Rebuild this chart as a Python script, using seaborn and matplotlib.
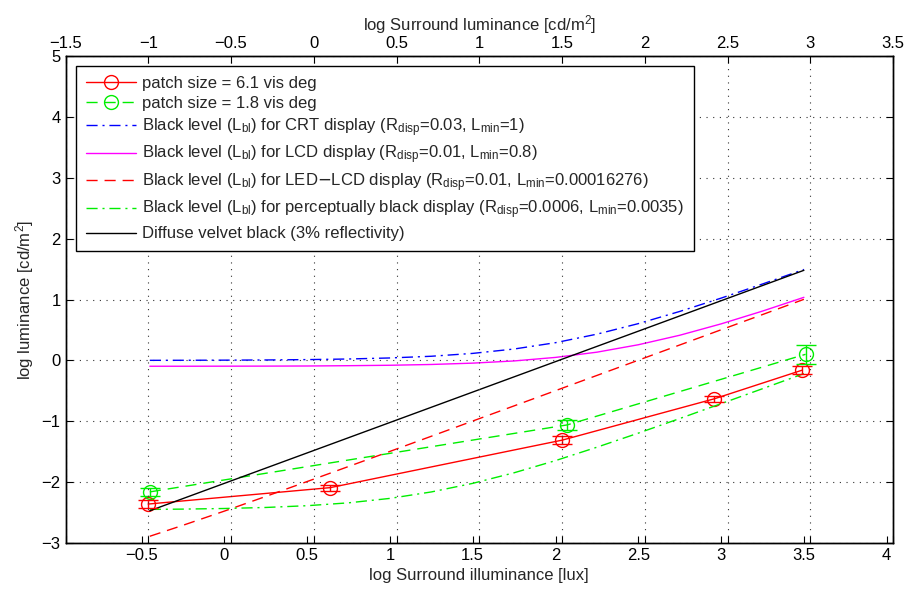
import matplotlib
matplotlib.use("Agg")
import matplotlib.pyplot as plt
from matplotlib.ticker import FuncFormatter
import seaborn as sns
import numpy as np

# =====================================================
# DATA
# =====================================================

# model curves, x = log surround illuminance [lux]
x_model = [-0.45, -0.25, 0.0, 0.25, 0.5, 0.75, 1.0, 1.25, 1.5,
           1.75, 2.0, 2.25, 2.5, 2.75, 3.0, 3.25, 3.5]
crt = [0.001, 0.002, 0.004, 0.007, 0.013, 0.023, 0.040, 0.068, 0.115,
       0.187, 0.291, 0.431, 0.604, 0.804, 1.023, 1.255, 1.494]
lcd = [-0.096, -0.096, -0.095, -0.094, -0.092, -0.087, -0.080, -0.067, -0.045,
       -0.009, 0.049, 0.135, 0.257, 0.413, 0.600, 0.810, 1.036]
led_lcd = [-2.889, -2.709, -2.476, -2.235, -1.990, -1.743, -1.495, -1.246, -0.996,
           -0.747, -0.497, -0.247, 0.003, 0.253, 0.503, 0.753, 1.003]
perceptual = [-2.448, -2.443, -2.433, -2.416, -2.387, -2.340, -2.267, -2.161, -2.020,
              -1.846, -1.646, -1.426, -1.195, -0.955, -0.711, -0.465, -0.217]

velvet_x = [-0.45, 3.5]
velvet_y = [-2.47, 1.48]

# measured black levels
red_x = [-0.46, 0.64, 2.04, 2.96, 3.49]
red_y = [-2.36, -2.09, -1.31, -0.63, -0.16]
red_err = [0.06, 0.05, 0.06, 0.05, 0.07]

green_x = [-0.45, 2.07, 3.51]
green_y = [-2.16, -1.06, 0.10]
green_err = [0.07, 0.08, 0.16]

labels = [
    "patch size = 6.1 vis deg",
    "patch size = 1.8 vis deg",
    r"Black level (L$\mathregular{_{bl}}$) for CRT display (R$\mathregular{_{disp}}$=0.03, L$\mathregular{_{min}}$=1)",
    r"Black level (L$\mathregular{_{bl}}$) for LCD display (R$\mathregular{_{disp}}$=0.01, L$\mathregular{_{min}}$=0.8)",
    r"Black level (L$\mathregular{_{bl}}$) for LED$-$LCD display (R$\mathregular{_{disp}}$=0.01, L$\mathregular{_{min}}$=0.00016276)",
    r"Black level (L$\mathregular{_{bl}}$) for perceptually black display (R$\mathregular{_{disp}}$=0.0006, L$\mathregular{_{min}}$=0.0035)",
    "Diffuse velvet black (3% reflectivity)",
]

bottom_ticks = [-0.5, 0, 0.5, 1, 1.5, 2, 2.5, 3, 3.5, 4]
top_ticks = [-1.5, -1, -0.5, 0, 0.5, 1, 1.5, 2, 2.5, 3, 3.5]
y_ticks = [-3, -2, -1, 0, 1, 2, 3, 4, 5]

# =====================================================
# STYLE
# =====================================================

sns.set_style("ticks")
plt.rcParams["font.family"] = ["Liberation Sans", "DejaVu Sans"]
plt.rcParams["font.size"] = 12
plt.rcParams["axes.edgecolor"] = "black"
plt.rcParams["xtick.color"] = "black"
plt.rcParams["ytick.color"] = "black"
plt.rcParams["axes.linewidth"] = 1.0

dash = (0, (8, 5))
dashdot = (0, (8, 3.5, 1.5, 3.5))

fig = plt.figure(figsize=(9.09, 5.96), dpi=100)
ax = fig.add_axes([0.0721, 0.0889, 0.9103, 0.8171])

# =====================================================
# LINES
# =====================================================

sns.lineplot(x=red_x, y=red_y, ax=ax, color="red", lw=1.0, sort=False,
             estimator=None, marker="o", markersize=10, markerfacecolor="none",
             markeredgecolor="red", markeredgewidth=1.0, label=labels[0])
sns.lineplot(x=green_x, y=green_y, ax=ax, color="#00ee00", lw=1.0, sort=False,
             estimator=None, marker="o", markersize=10, markerfacecolor="none",
             markeredgecolor="#00ee00", markeredgewidth=1.0, linestyle=dash,
             label=labels[1])
sns.lineplot(x=x_model, y=crt, ax=ax, color="blue", lw=1.0, linestyle=dashdot,
             estimator=None, label=labels[2])
sns.lineplot(x=x_model, y=lcd, ax=ax, color="magenta", lw=1.0,
             estimator=None, label=labels[3])
sns.lineplot(x=x_model, y=led_lcd, ax=ax, color="red", lw=1.0, linestyle=dash,
             estimator=None, label=labels[4])
sns.lineplot(x=x_model, y=perceptual, ax=ax, color="#00ee00", lw=1.0,
             linestyle=dashdot, estimator=None, label=labels[5])
sns.lineplot(x=velvet_x, y=velvet_y, ax=ax, color="black", lw=1.0,
             estimator=None, label=labels[6])

ax.errorbar(red_x, red_y, yerr=red_err, fmt="none", ecolor="red",
            elinewidth=1.0, capsize=7, capthick=1.0, label="_nolegend_")
ax.errorbar(green_x, green_y, yerr=green_err, fmt="none", ecolor="#00ee00",
            elinewidth=1.0, capsize=7, capthick=1.0, label="_nolegend_")

handles, leg_labels = ax.get_legend_handles_labels()
if ax.get_legend() is not None:
    ax.get_legend().remove()

# =====================================================
# AXES
# =====================================================

fmt = FuncFormatter(lambda v, p: ("%g" % v).replace("-", "\u2212"))

ax2 = ax.twiny()

ax.set_xlim(-0.959, 4.038)
ax.set_ylim(-3, 5)
ax.set_xticks(bottom_ticks)
ax.set_yticks(y_ticks)
ax.xaxis.set_major_formatter(fmt)
ax.yaxis.set_major_formatter(fmt)
ax.tick_params(axis="x", direction="in", bottom=True, top=False, length=5)
ax.tick_params(axis="y", direction="in", left=True, right=True, length=5)
ax.grid(axis="y", color="0.2", linestyle=(0, (1, 5)), lw=0.8)

ax2.set_xlim(-1.5, 3.5)
ax2.set_xticks(top_ticks)
ax2.xaxis.set_major_formatter(fmt)
ax2.tick_params(axis="x", direction="in", top=True, bottom=True,
                labeltop=True, labelbottom=False, length=5)
ax2.grid(axis="x", color="0.2", linestyle=(0, (1, 5)), lw=0.8)

ax.set_xlabel("log Surround illuminance [lux]")
ax.set_ylabel(r"log luminance [cd/m$\mathregular{^2}$]")
ax2.set_xlabel(r"log Surround luminance [cd/m$\mathregular{^2}$]")

leg = ax2.legend(handles, leg_labels, loc="upper left",
                 bbox_to_anchor=(0.0127, 0.9795), borderaxespad=0,
                 fontsize=12, handlelength=3.0, handletextpad=0.35,
                 labelspacing=0.3, borderpad=0.6, fancybox=False,
                 framealpha=1, edgecolor="black", numpoints=1)
leg.get_frame().set_linewidth(1.0)
leg.set_zorder(10)

fig.savefig("out.png", dpi=100)
